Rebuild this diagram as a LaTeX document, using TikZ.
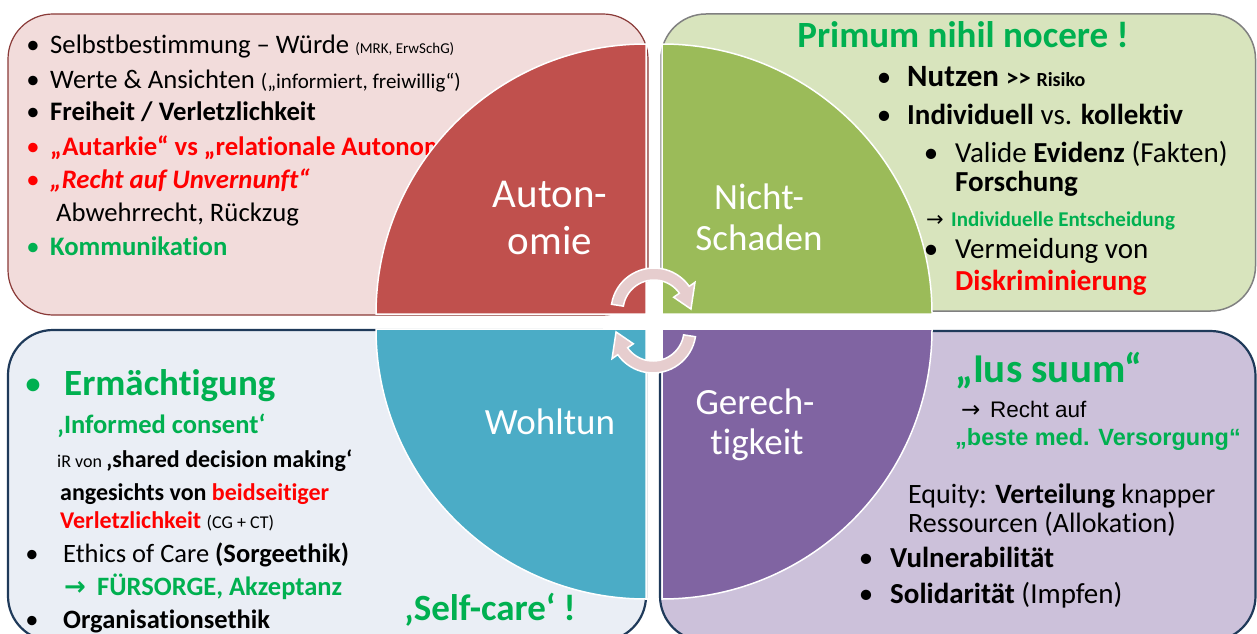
\documentclass[tikz,border=0pt]{standalone}
\usepackage{fontspec}
\setmainfont{Carlito}[Ligatures={TeX,NoCommon}]
\newfontfamily\arialf{Liberation Sans}
\newfontfamily\symf{DejaVu Sans}
\newcommand{\fsz}[1]{\fontsize{#1}{#1}\selectfont}
\definecolor{grn}{HTML}{00B050}
\definecolor{rd}{HTML}{FF0000}
\definecolor{qred}{HTML}{C0504D}
\definecolor{qgreen}{HTML}{9BBB59}
\definecolor{qblue}{HTML}{4BACC6}
\definecolor{qpurple}{HTML}{8064A2}
\definecolor{bxtl}{HTML}{F2DCDB}
\definecolor{bxtr}{HTML}{D8E4BD}
\definecolor{bxbl}{HTML}{EAEEF5}
\definecolor{bxbr}{HTML}{CCC1DA}
\definecolor{lntl}{HTML}{8A3A38}
\definecolor{lntr}{HTML}{808080}
\definecolor{lnnv}{HTML}{1F3A5A}
\definecolor{arrfill}{HTML}{E6CDCE}
\begin{document}
\begin{tikzpicture}[x=1pt,y=1pt,
  txt/.style={inner sep=0pt,anchor=base west},
  bul/.style={inner sep=0pt,anchor=base},
  lbl/.style={inner sep=0pt,anchor=base,text=white},
  box/.style={rounded corners=45pt},
  quad/.style={draw=white,line width=1.5pt},
  arr/.style={fill=arrfill,draw=white,line width=1.5pt}]
\useasboundingbox (0,0) rectangle (1257,633);
\fill[white] (0,0) rectangle (1257,633);
% boxes
\filldraw[box,fill=bxtl,draw=lntl,line width=1.2pt] (8,318) rectangle (648,619);
\filldraw[box,fill=bxtr,draw=lntr,line width=1.5pt] (661,322) rectangle (1255.5,619);
\filldraw[box,fill=bxbl,draw=lnnv,line width=2.2pt] (8,-8) rectangle (646,303);
\filldraw[box,fill=bxbr,draw=lnnv,line width=2.2pt] (660,-8) rectangle (1255.5,302);
% top-left texts (drawn before the circle, which covers the end of line 4)
\node[bul] (tlb1) at (33,579.7) {\fsz{26.7}•};
\node[txt] (tl1) at (50,579.7) {\fsz{26.7}Selbstbestimmung – Würde \fsz{15}(MRK, ErwSchG)};
\node[bul] (tlb2) at (33,544.7) {\fsz{26.7}•};
\node[txt] (tl2) at (50,544.7) {\fsz{26.7}Werte \& Ansichten \fsz{21}(„informiert, freiwillig“)};
\node[bul] (tlb3) at (33,512.7) {\fsz{26.7}•};
\node[txt] (tl3) at (50,512.7) {\fsz{26.7}\bfseries Freiheit / Verletzlichkeit};
\node[bul,text=rd] (tlb4) at (33,477.7) {\fsz{26.7}•};
\node[txt,text=rd] (tl4) at (50,477.7) {\fsz{26.7}\bfseries „Autarkie“ vs „relationale Autonomie“};
\node[bul,text=rd] (tlb5) at (33,444.7) {\fsz{26.7}•};
\node[txt,text=rd] (tl5) at (50,444.7) {\fsz{26.7}\bfseries\itshape „Recht auf Unvernunft“};
\node[txt] (tl6) at (56,411.7) {\fsz{26.7}Abwehrrecht, Rückzug};
\node[bul,text=grn] (tlb7) at (33,377.7) {\fsz{26.7}•};
\node[txt,text=grn] (tl7) at (50,377.7) {\fsz{26.7}\bfseries Kommunikation};
% quadrants
\filldraw[quad,fill=qred] (646,319) -- (376,319) arc[start angle=180,end angle=90,radius=270] -- cycle;
\filldraw[quad,fill=qgreen] (662,319) -- (662,589) arc[start angle=90,end angle=0,radius=270] -- cycle;
\filldraw[quad,fill=qblue] (646,304) -- (646,34) arc[start angle=270,end angle=180,radius=270] -- cycle;
\filldraw[quad,fill=qpurple] (662,304) -- (932,304) arc[start angle=0,end angle=-90,radius=270] -- cycle;
% circular arrows
\coordinate (ca) at (654,322);
\coordinate (cb) at (653,303);
\filldraw[arr] ([shift={(171:43)}]ca) arc[start angle=171,end angle=35,radius=43]
  -- ([shift={(35:50)}]ca) -- ([shift={(3:37)}]ca) -- ([shift={(35:24)}]ca)
  -- ([shift={(35:31)}]ca) arc[start angle=35,end angle=171,radius=31] -- cycle;
\filldraw[arr] ([shift={(-9:43)}]cb) arc[start angle=-9,end angle=-145,radius=43]
  -- ([shift={(-145:50)}]cb) -- ([shift={(-177:37)}]cb) -- ([shift={(-145:24)}]cb)
  -- ([shift={(-145:31)}]cb) arc[start angle=-145,end angle=-9,radius=31] -- cycle;
% quadrant labels
\node[lbl] (qa1) at (550,425) {\fsz{41}Auton-};
\node[lbl] (qa2) at (550,379) {\fsz{41}omie};
\node[lbl] (qn1) at (759,424) {\fsz{37}Nicht-};
\node[lbl] (qn2) at (759,383) {\fsz{37}Schaden};
\node[lbl] (qw1) at (550,199) {\fsz{37}Wohltun};
\node[lbl] (qg1) at (755,219) {\fsz{37}Gerech-};
\node[lbl] (qg2) at (757,179) {\fsz{37}tigkeit};
% top-right texts
\node[inner sep=0pt,anchor=base,text=grn] (tr0) at (963,585) {\fsz{37}\bfseries Primum nihil nocere !};
\node[bul] (trb1) at (884,546) {\fsz{29}•};
\node[txt] (tr1) at (907,546) {\fsz{31}\bfseries Nutzen \fsz{25}>\kern0pt> \fsz{20}Risiko};
\node[bul] (trb2) at (884,508) {\fsz{29}•};
\node[txt] (tr2) at (907,508) {\fsz{29}\textbf{Individuell} vs. \textbf{kollektiv}};
\node[bul] (trb3) at (931,470) {\fsz{29}•};
\node[txt] (tr3) at (955,470) {\fsz{29}Valide \textbf{Evidenz} (Fakten)};
\node[txt] (tr4) at (955,441) {\fsz{29}\bfseries Forschung};
\node[txt] (tr5a) at (926,407) {\symf\fsz{21}→};
\node[txt,text=grn] (tr5) at (951,407) {\fsz{21}\bfseries Individuelle Entscheidung};
\node[bul] (trb6) at (931,375) {\fsz{29}•};
\node[txt] (tr6) at (955,375) {\fsz{29}Vermeidung von};
\node[txt,text=rd] (tr7) at (955,343) {\fsz{29}\bfseries Diskriminierung};
% bottom-right texts
\node[txt,text=grn] (br1) at (955,251) {\fsz{41}\bfseries „Ius suum“};
\node[txt] (br2a) at (961,216) {\symf\fsz{23}→};
\node[txt] (br2) at (990,216) {\arialf\fsz{22.5}Recht auf};
\node[txt,text=grn] (br3) at (955,188) {\arialf\bfseries\fsz{23.5}„beste med. Versorgung“};
\node[txt] (br4) at (908,130) {\fsz{28}Equity: \textbf{Verteilung} knapper};
\node[txt] (br5) at (908,101) {\fsz{28}Ressourcen (Allokation)};
\node[bul] (brb6) at (866,66) {\fsz{29}•};
\node[txt] (br6) at (890,66) {\fsz{29}\bfseries Vulnerabilität};
\node[bul] (brb7) at (866,30) {\fsz{29}•};
\node[txt] (br7) at (890,30) {\fsz{29}\textbf{Solidarität} (Impfen)};
% bottom-left texts
\node[bul,text=grn] (blb1) at (33,238) {\fsz{36}•};
\node[txt,text=grn] (bl1) at (64,238) {\fsz{37}\bfseries Ermächtigung};
\node[txt,text=grn] (bl2) at (57,200) {\fsz{26.5}\bfseries ‚Informed consent‘};
\node[txt] (bl3) at (57,166) {\fsz{18}iR von \fsz{24}\bfseries ‚shared decision making‘};
\node[txt] (bl4) at (60,133) {\fsz{24}\bfseries angesichts von \textcolor{rd}{beidseitiger}};
\node[txt] (bl5) at (60,105) {\fsz{24}\textbf{\textcolor{rd}{Verletzlichkeit}} \fsz{18}(CG + CT)};
\node[bul] (blb6) at (32,71) {\fsz{26.5}•};
\node[txt] (bl6) at (63,71) {\fsz{26.5}Ethics of Care \textbf{(Sorgeethik)}};
\node[txt,text=grn] (bl7a) at (64,38) {\symf\bfseries\fsz{26}→};
\node[txt,text=grn] (bl7) at (97,38) {\fsz{26.5}\bfseries FÜRSORGE, Akzeptanz};
\node[bul] (blb8) at (32,5) {\fsz{26.5}•};
\node[txt] (bl8) at (63,5) {\fsz{26.5}\bfseries Organisationsethik};
\node[txt,text=grn] (bl9) at (404,13) {\fsz{37}\bfseries ‚Self-care‘ !};
\end{tikzpicture}
\end{document}
